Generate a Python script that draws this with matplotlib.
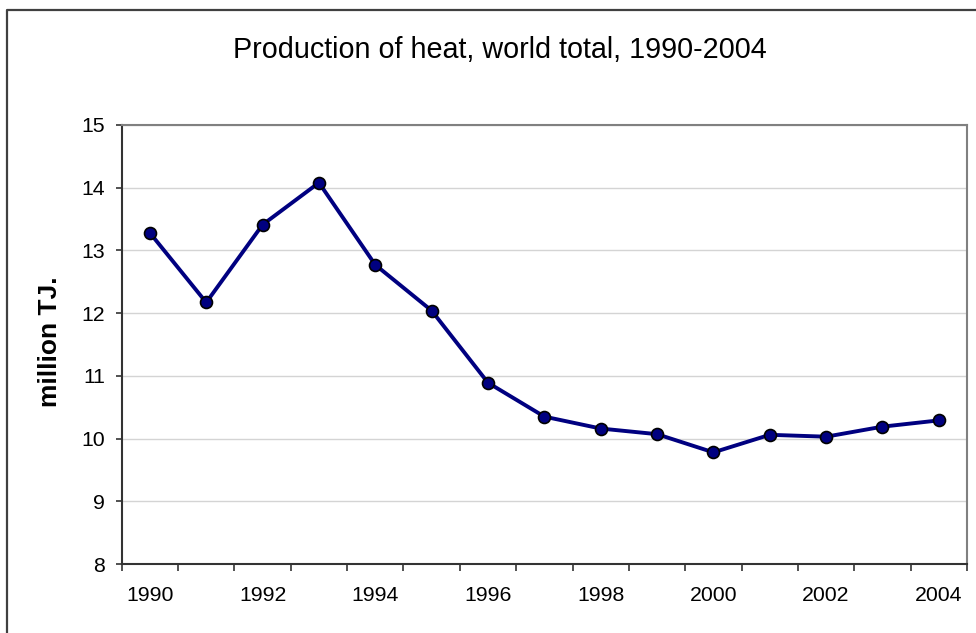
import matplotlib
matplotlib.use("Agg")
import matplotlib.pyplot as plt
from matplotlib.lines import Line2D

years = [1990, 1991, 1992, 1993, 1994, 1995, 1996, 1997, 1998, 1999,
         2000, 2001, 2002, 2003, 2004]
heat = [13.28, 12.17, 13.41, 14.08, 12.77, 12.04, 10.89, 10.35, 10.16,
        10.07, 9.78, 10.06, 10.03, 10.19, 10.29]
y_ticks = [8, 9, 10, 11, 12, 13, 14, 15]
x_labels = ["1990", "1992", "1994", "1996", "1998", "2000", "2002", "2004"]

plt.rcParams["font.family"] = ["Liberation Sans", "DejaVu Sans"]

W, H = 976, 633
fig = plt.figure(figsize=(W / 100, H / 100), dpi=100)
fig.patch.set_facecolor("white")

ax = fig.add_axes([121.7 / W, 1 - 564 / H, (967 - 121.7) / W, (564 - 125) / H])

pos = list(range(len(years)))
ax.plot(pos, heat, color="#000080", lw=2.8, marker="o", markersize=8.6,
        markerfacecolor="#000080", markeredgecolor="black",
        markeredgewidth=1.2, zorder=3, clip_on=False)

ax.set_xlim(-0.5, len(years) - 0.5)
ax.set_ylim(8, 15)
ax.set_yticks(y_ticks)
ax.set_yticklabels([str(v) for v in y_ticks])
ax.yaxis.grid(True, color="#d4d4d4", lw=1.0)
ax.set_axisbelow(True)

# category boundaries carry the tick marks, labels sit under every other point
ax.set_xticks([i - 0.5 for i in range(len(years) + 1)])
ax.set_xticklabels([""] * (len(years) + 1))
ax.set_xticks(pos[::2], minor=True)
ax.set_xticklabels(x_labels, minor=True)
ax.tick_params(axis="x", which="major", direction="out", length=5,
               width=1.2, color="#333333")
ax.tick_params(axis="x", which="minor", length=0, pad=16, labelsize=15.3)
ax.tick_params(axis="y", direction="out", length=4, width=1.2,
               color="#333333", pad=8, labelsize=15.3)

for side in ("left", "bottom"):
    ax.spines[side].set_color("#333333")
    ax.spines[side].set_linewidth(1.5)
for side in ("top", "right"):
    ax.spines[side].set_color("#808080")
    ax.spines[side].set_linewidth(1.5)

fig.text(499.7 / W, 1 - 57.5 / H, "Production of heat, world total, 1990-2004",
         ha="center", va="baseline", fontsize=20.7)
fig.text(50 / W, 1 - 341.5 / H, "million TJ.", rotation=90, ha="center",
         va="center", fontsize=19, fontweight="bold")

# outer chart frame (continues past the right and bottom edges)
fig.add_artist(Line2D([7.3 / W, 7.3 / W, 1.0], [0.0, 1 - 10 / H, 1 - 10 / H],
                      transform=fig.transFigure, color="#404040", lw=1.6))

fig.savefig("out.png", dpi=100)
